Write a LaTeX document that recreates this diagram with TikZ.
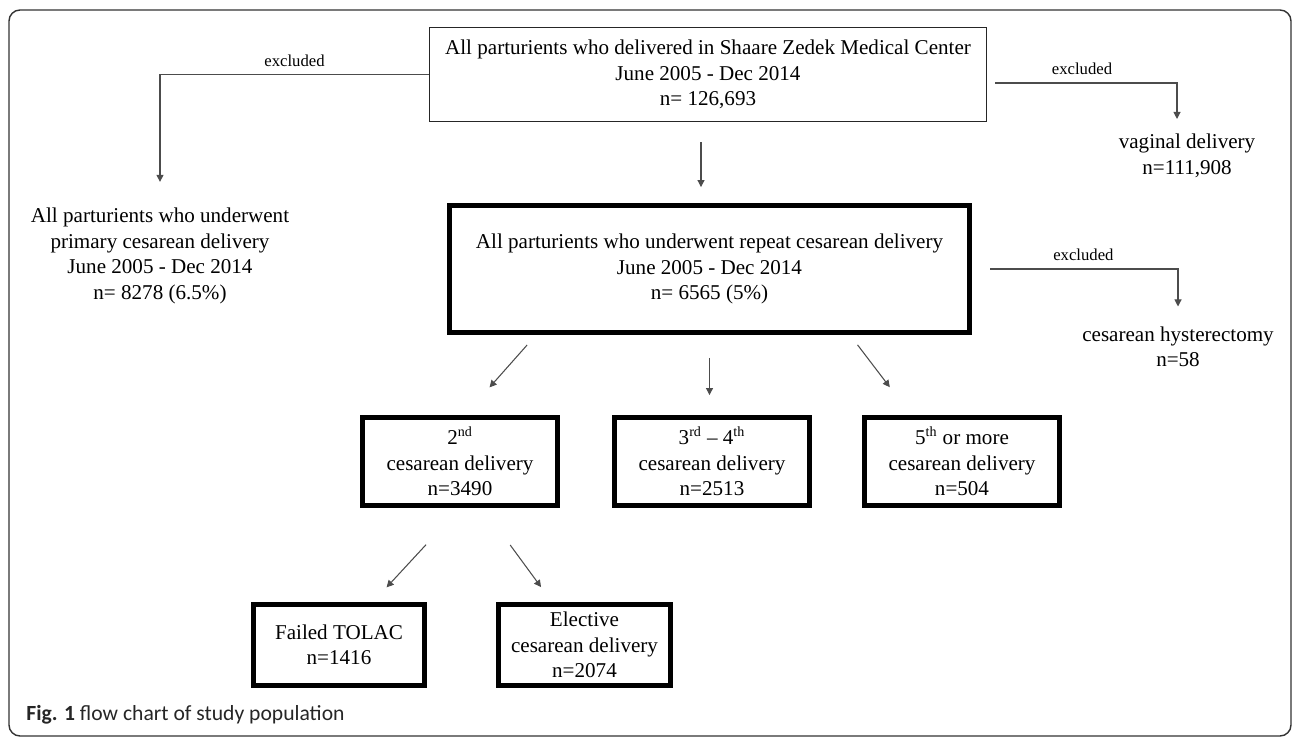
\documentclass[tikz,border=0pt]{standalone}
\usepackage{fontspec}
\setmainfont{Liberation Serif}
\newfontfamily\capfont{Carlito}
\usepackage{tikz}
\usetikzlibrary{arrows.meta,positioning}

\begin{document}
\begin{tikzpicture}[x=0.02cm,y=-0.02cm,
    every node/.style={font=\fontsize{12}{14.5}\selectfont, align=center},
    plainbox/.style={draw=black!85, line width=0.7pt, inner sep=0pt},
    heavybox/.style={draw=black, line width=2.8pt, inner sep=0pt},
    plaintext/.style={inner sep=0pt},
    flowarrow/.style={draw=black!70, line width=0.6pt, -{Triangle[length=4pt,width=4pt]}},
    exlabel/.style={font=\fontsize{9.5}{11}\selectfont, above=0.15cm, inner sep=0pt}]

    % Frame
    \useasboundingbox (0,0) rectangle (1295,739);
    \draw[black!80, line width=0.8pt, rounded corners=0.22cm] (9,10) rectangle (1291,736);

    % Boxes
    \node[plainbox, minimum width=11.14cm, minimum height=1.88cm] (all) at (708,74.5)
        {All parturients who delivered in Shaare Zedek Medical Center\\June 2005 - Dec 2014\\n= 126,693};
    \node[heavybox, minimum width=10.42cm, minimum height=2.54cm] (repeat) at (709.5,269)
        {All parturients who underwent repeat cesarean delivery\\June 2005 - Dec 2014\\n= 6565 (5\%)};
    \node[heavybox, minimum width=3.9cm, minimum height=1.76cm] (second) at (460,461.5)
        {2\textsuperscript{nd}\\cesarean delivery\\n=3490};
    \node[heavybox, minimum width=3.9cm, minimum height=1.76cm] (third) at (712,461.5)
        {3\textsuperscript{rd} -- 4\textsuperscript{th}\\cesarean delivery\\n=2513};
    \node[heavybox, minimum width=3.9cm, minimum height=1.76cm] (fifth) at (962,461.5)
        {5\textsuperscript{th} or more\\cesarean delivery\\n=504};
    \node[heavybox, minimum width=3.42cm, minimum height=1.62cm] (tolac) at (339,645)
        {Failed TOLAC\\n=1416};
    \node[heavybox, minimum width=3.44cm, minimum height=1.62cm] (elective) at (584.5,645)
        {Elective\\cesarean delivery\\n=2074};

    % Excluded groups
    \node[plaintext] (primary) at (160,256)
        {All parturients who underwent\\primary cesarean delivery\\June 2005 - Dec 2014\\n= 8278 (6.5\%)};
    \node[plaintext] (vaginal) at (1187,156) {vaginal delivery\\n=111,908};
    \node[plaintext] (hyster) at (1178,347) {cesarean hysterectomy\\n=58};

    % Excluded arrows
    \draw[flowarrow, shorten >=0.52cm] (all.west) -| node[exlabel, pos=0.25] {excluded} (primary.north);
    \draw[flowarrow, shorten <=0.16cm, shorten >=0.3cm] ([yshift=-0.17cm]all.east) -| node[exlabel, pos=0.25] {excluded} ([xshift=-0.2cm]vaginal.north);
    \draw[flowarrow, shorten <=0.36cm, shorten >=0.4cm] (repeat.east) -| node[exlabel, pos=0.27] {excluded} (hyster.north);

    % Main flow
    \draw[flowarrow, shorten <=0.4cm, shorten >=0.32cm] ([xshift=-0.14cm]all.south) -- ([xshift=-0.14cm]all.south |- repeat.north);
    \draw[flowarrow, shorten <=0.27cm, shorten >=0.74cm] ([xshift=-3.47cm]repeat.south) -- ([xshift=0.1cm]second.north);
    \draw[flowarrow, shorten <=0.46cm, shorten >=0.4cm] (repeat.south) -- (repeat.south |- third.north);
    \draw[flowarrow, shorten <=0.25cm, shorten >=0.7cm] ([xshift=2.81cm]repeat.south) -- ([xshift=-1.02cm]fifth.north);
    \draw[flowarrow, shorten <=1.0cm, shorten >=0.4cm] (second.south) -- ([xshift=0.68cm]tolac.north);
    \draw[flowarrow, shorten <=0.92cm, shorten >=0.37cm] ([xshift=0.46cm]second.south) -- ([xshift=-0.65cm]elective.north);

    % Caption
    \node[anchor=west, inner sep=0pt, text=black!85, font=\capfont\fontsize{12.3}{14}\selectfont] (caption) at (26,715)
        {\textbf{Fig. 1} flow chart of study population};
\end{tikzpicture}
\end{document}
